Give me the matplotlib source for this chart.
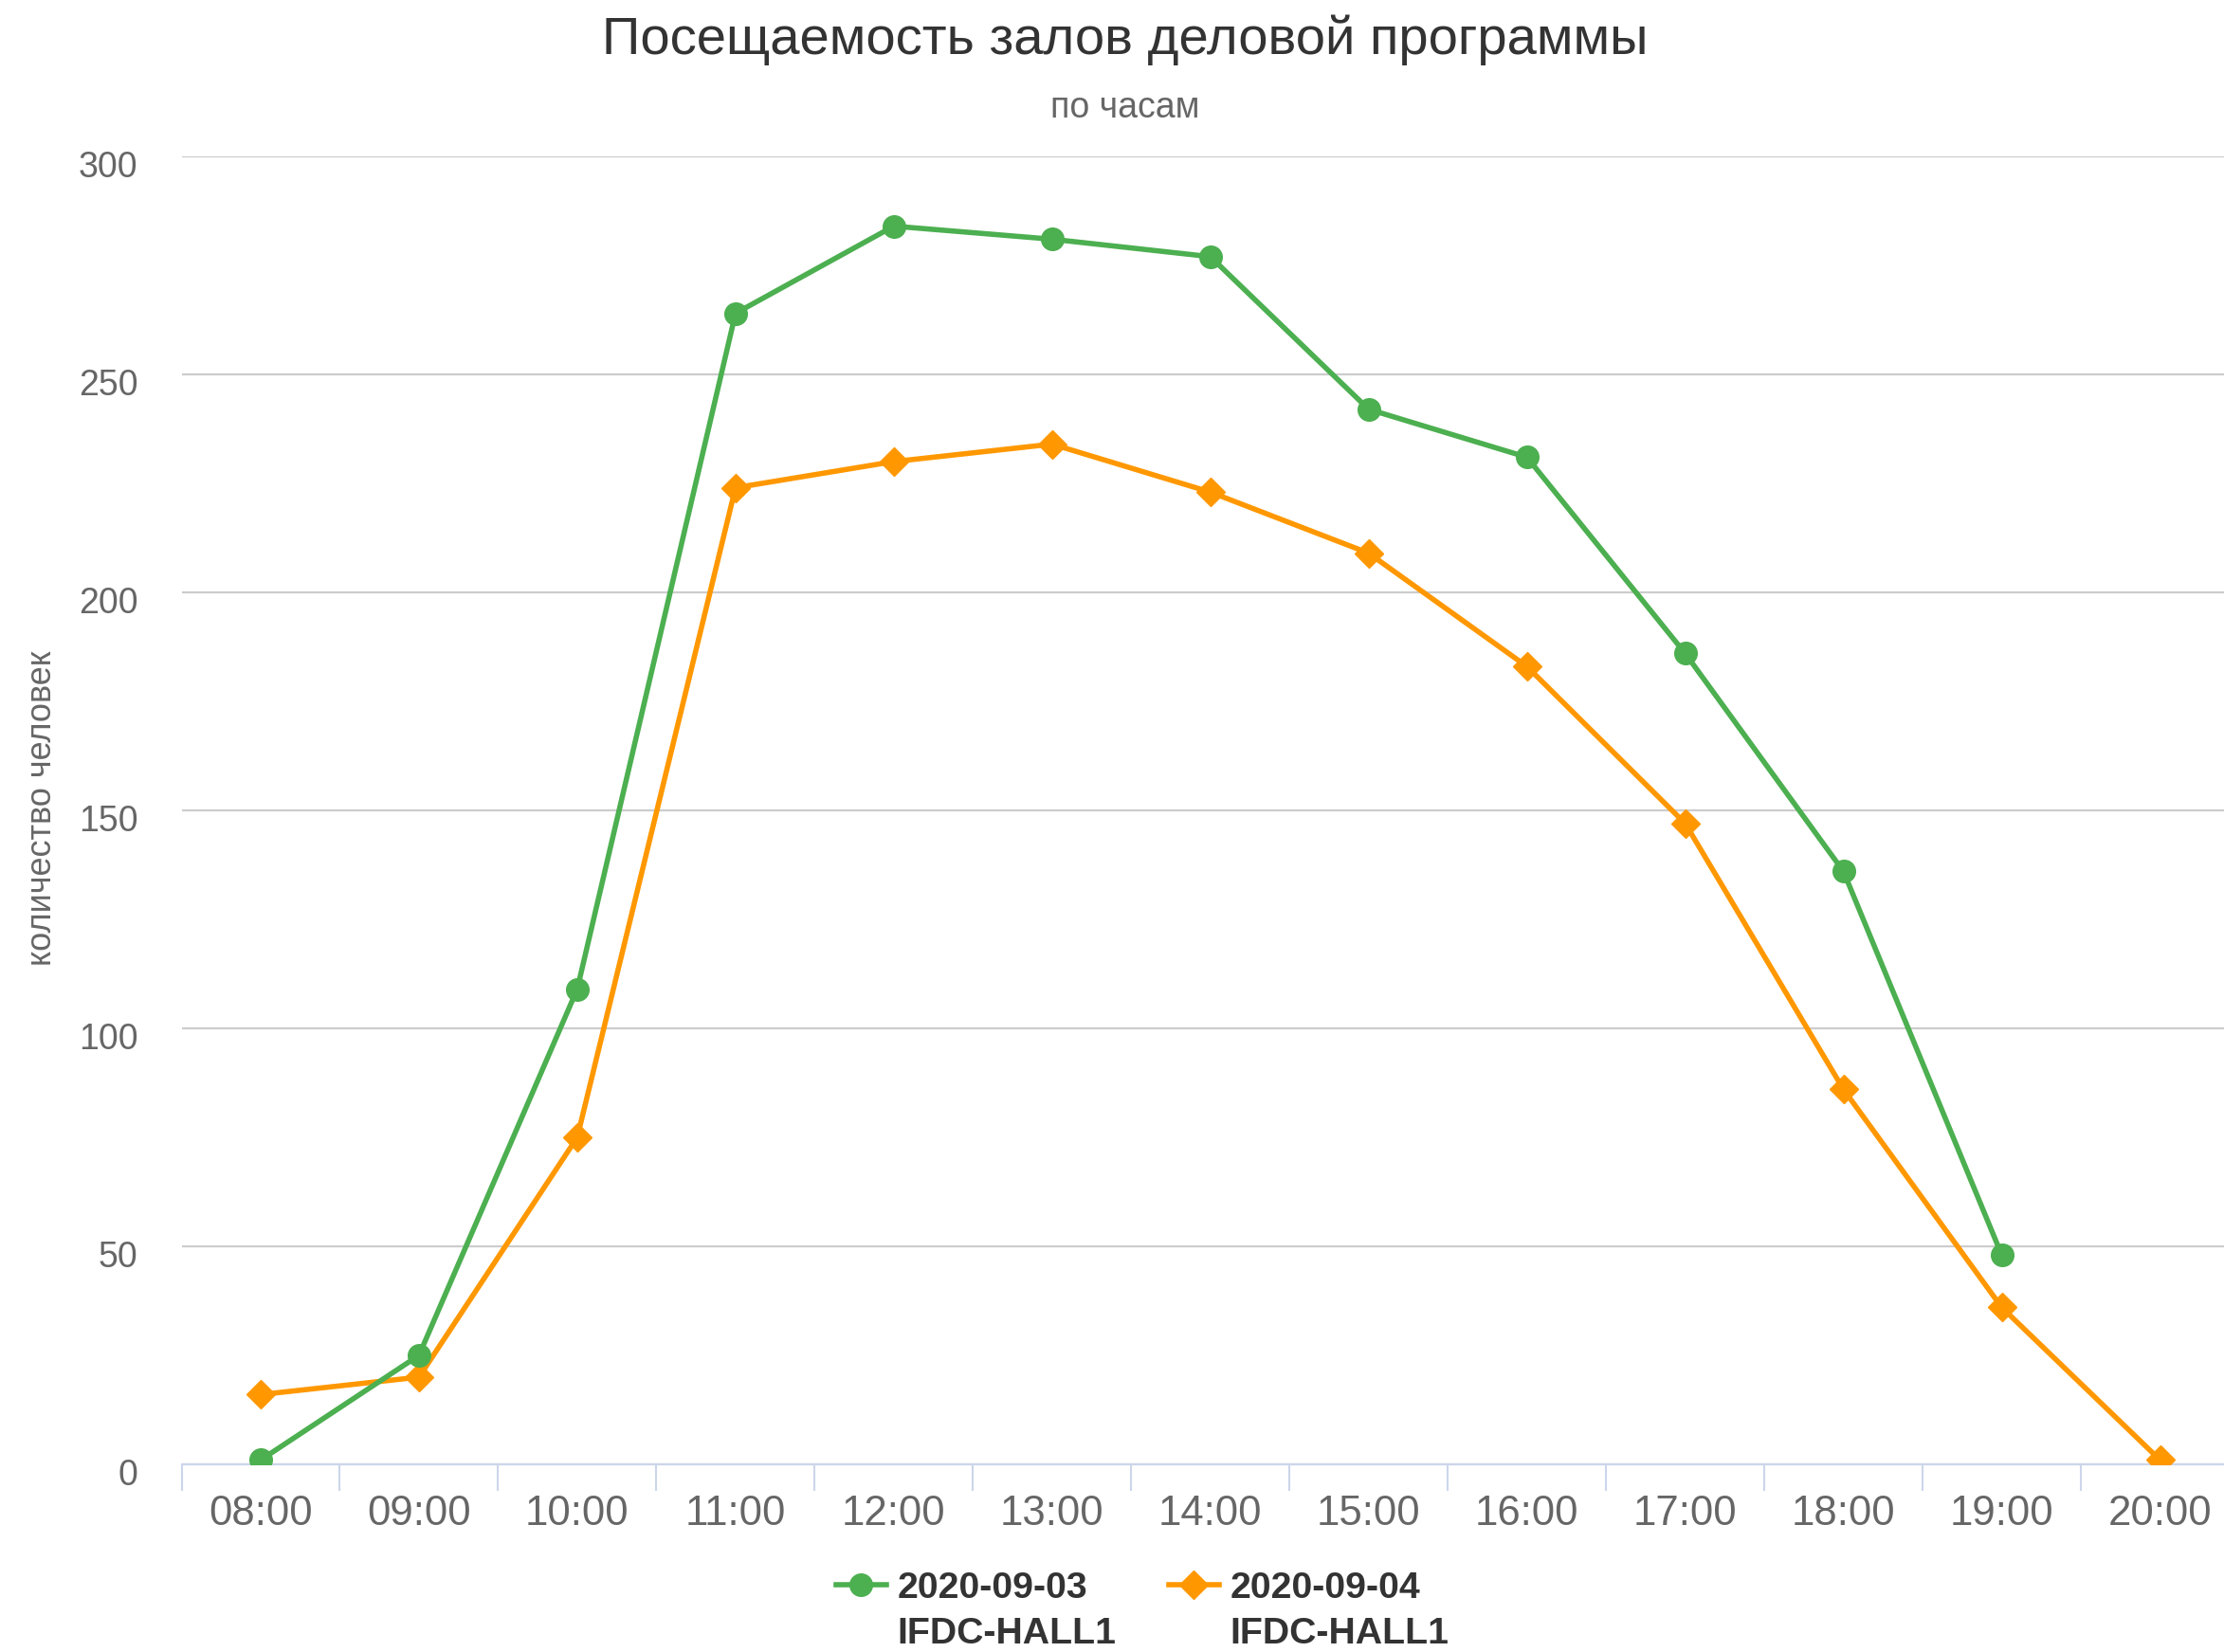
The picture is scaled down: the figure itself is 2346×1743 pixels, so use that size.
import matplotlib
matplotlib.use("Agg")
import matplotlib.pyplot as plt
import matplotlib.transforms as mtransforms
from matplotlib.lines import Line2D
import numpy as np

plt.rcParams['font.family'] = ['Liberation Sans', 'DejaVu Sans']

hours = ["08:00", "09:00", "10:00", "11:00", "12:00", "13:00", "14:00",
         "15:00", "16:00", "17:00", "18:00", "19:00", "20:00"]
series1_name = "2020-09-03"
series1_hall = "IFDC-HALL1"
series1 = [1, 25, 109, 264, 284, 281, 277, 242, 231, 186, 136, 48]
series2_name = "2020-09-04"
series2_hall = "IFDC-HALL1"
series2 = [16, 20, 75, 224, 230, 234, 223, 209, 183, 147, 86, 36, 1]
yticks = [0, 50, 100, 150, 200, 250, 300]

title = "Посещаемость залов деловой программы"
subtitle = "по часам"
ylabel = "количество человек"

GREEN = "#4caf50"
ORANGE = "#ff9800"

W, H = 2346, 1743
fig = plt.figure(figsize=(W / 100, H / 100), dpi=100)
left = 191.5 / W
right = 2362 / W
bottom = 1 - 1545 / H
top = 1 - 165 / H
ax = fig.add_axes([left, bottom, right - left, top - bottom])

LW = 4.0
x1 = np.arange(len(series1))
x2 = np.arange(len(series2))
ax.plot(x1, series1, color=GREEN, lw=LW, marker='o', markersize=17,
        solid_joinstyle='round', zorder=4)
ax.plot(x2, series2, color=ORANGE, lw=LW, marker='D', markersize=15,
        solid_joinstyle='round', zorder=3)

ax.set_xlim(-0.5, len(hours) - 0.5)
ax.set_ylim(0, 300)

# y axis
ax.set_yticks(yticks)
ax.set_yticklabels([str(v) for v in yticks])
ax.tick_params(axis='y', length=0, pad=33, labelsize=27, labelcolor='#666666')
offset = mtransforms.ScaledTranslation(0, -8 / 100, fig.dpi_scale_trans)
for lbl in ax.get_yticklabels():
    lbl.set_transform(lbl.get_transform() + offset)
ax.yaxis.grid(True, color='#cccccc', lw=1.6)
ax.set_axisbelow(True)

# x axis: boundaries as major ticks, labels on minor ticks
ax.set_xticks(np.arange(len(hours) + 1) - 0.5)
ax.set_xticklabels([])
ax.tick_params(axis='x', which='major', length=20, width=1.5, color='#ccd6eb')
ax.set_xticks(np.arange(len(hours)), minor=True)
ax.set_xticklabels(hours, minor=True)
ax.tick_params(axis='x', which='minor', length=0, pad=23, labelsize=31.5,
               labelcolor='#666666')

for s in ['left', 'top', 'right']:
    ax.spines[s].set_visible(False)
ax.spines['bottom'].set_color('#ccd6eb')
ax.spines['bottom'].set_linewidth(1.6)
ax.spines['bottom'].set_zorder(2)

fig.text(1187 / W, 1 - 42 / H, title, ha='center', va='center',
         fontsize=40.5, color='#333333')
fig.text(1187 / W, 1 - 114 / H, subtitle, ha='center', va='center',
         fontsize=27, color='#666666')
fig.text(45 / W, 1 - 853 / H, ylabel, rotation=90, ha='center', va='center',
         fontsize=26, color='#666666')

h1 = Line2D([], [], color=GREEN, lw=LW, marker='o', markersize=17)
h2 = Line2D([], [], color=ORANGE, lw=LW, marker='D', markersize=15)
blank = Line2D([], [], color='none', lw=0)
leg = fig.legend([h1, blank, h2, blank],
                 [series1_name, series1_hall, series2_name, series2_hall],
                 ncol=2, loc='center', bbox_to_anchor=(1205 / W, 1 - 1700 / H),
                 frameon=False, prop={'weight': 'bold', 'size': 28.3},
                 labelcolor='#333333', handlelength=1.35, handletextpad=0.3,
                 columnspacing=1.4, labelspacing=0.3, borderpad=0)

fig.savefig("out.png", dpi=100)
